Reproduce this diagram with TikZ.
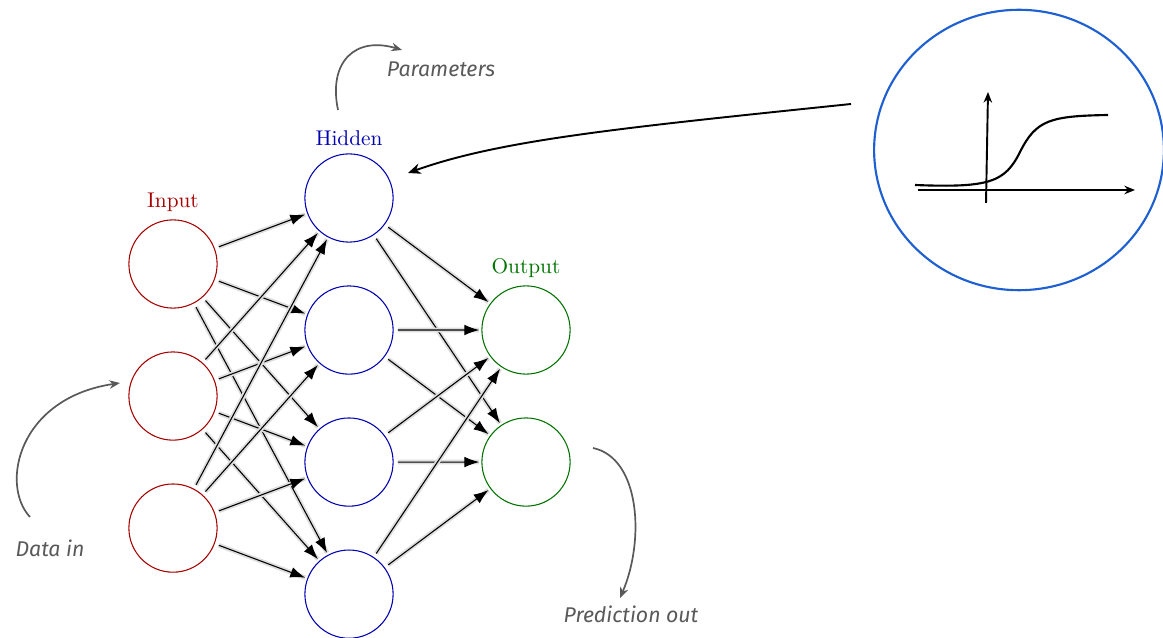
\documentclass[tikz,border=0pt]{standalone}
\usepackage{fontspec}
\newfontfamily\handfont{Fira Sans}
\usetikzlibrary{arrows.meta,positioning,shapes.geometric}
\definecolor{actblue}{RGB}{30,95,210}

\tikzset{
  neuron/.style={circle, minimum size=41.4pt, inner sep=0pt, line width=0.5pt},
  inneuron/.style={neuron, draw=red!65!black},
  hidneuron/.style={neuron, draw=blue!70!black},
  outneuron/.style={neuron, draw=green!45!black},
  link/.style={-{Latex[length=7pt,width=5pt]}, line width=0.5pt, shorten <=2pt, shorten >=1pt,
    preaction={draw=black!13, line width=2.2pt, -}},
  note/.style={font=\handfont\itshape, text=black!65},
  notearrow/.style={-{Stealth[length=5pt,width=4pt]}, draw=black!65, line width=0.8pt},
}

\begin{document}
\begin{tikzpicture}[x=0.0165cm, y=-0.0165cm, node distance=2.178cm]
\useasboundingbox (0,0) rectangle (1163,638);

% input layer
\node (i1) [inneuron, label={[text=red!65!black]above:Input}] at (173,264) {};
\node (i2) [inneuron, below of=i1] {};
\node (i3) [inneuron, below of=i2] {};

% hidden layer
\node (h1) [hidneuron, label={[text=blue!70!black]above:Hidden}] at (349,198) {};
\node (h2) [hidneuron, below of=h1] {};
\node (h3) [hidneuron, below of=h2] {};
\node (h4) [hidneuron, below of=h3] {};

% output layer
\node (o1) [outneuron, label={[text=green!45!black]above:Output}] at (526,330) {};
\node (o2) [outneuron, below of=o1] {};

% weights
\foreach \i in {1,2,3}
  \foreach \h in {1,...,4}
    \draw[link] (i\i) -- (h\h);
\foreach \h in {1,...,4}
  \foreach \o in {1,2}
    \draw[link] (h\h) -- (o\o);

% notes
\node (par) [note] at (441,69) {Parameters};
\node (din) [note] at (50,548) {Data in};
\node (pout) [note] at (631,614) {Prediction out};
\coordinate (parfrom) at (338,110);
\coordinate (parto) at (402,50);
\coordinate (dinfrom) at (30,517);
\coordinate (dinto) at (120,383);
\coordinate (poutfrom) at (593,448);
\coordinate (poutto) at (620,598);
\draw[notearrow] (parfrom) .. controls (328,62) and (355,36) .. (parto);
\draw[notearrow] (dinfrom) .. controls (0,485) and (18,398) .. (dinto);
\draw[notearrow] (poutfrom) .. controls (640,458) and (645,540) .. (poutto);

% activation function
\node (act) [ellipse, draw=actblue, line width=1pt, inner sep=0pt,
  minimum width=136pt, minimum height=131.6pt] at (1019,150) {};
\draw[-{Stealth[length=5pt,width=4pt]}, line width=0.9pt] (918,190) -- (1135,190);
\draw[-{Stealth[length=5pt,width=4pt]}, line width=0.9pt] (986,203) -- (988,92);
\draw[line width=1pt] (915,185) .. controls (990,188) and (1005,182) .. (1020,152)
  .. controls (1036,120) and (1050,116) .. (1108,115);
\coordinate (actfrom) at (851,104);
\coordinate (actto) at (408,173);
\draw[-{Stealth[length=6pt,width=5pt]}, line width=0.9pt]
  (actfrom) .. controls (620,128) and (500,140) .. (actto);
\end{tikzpicture}
\end{document}
